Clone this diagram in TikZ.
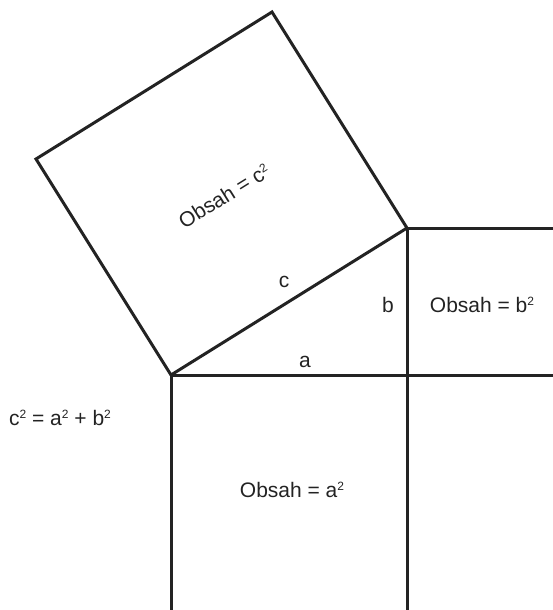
\documentclass[tikz,border=0pt]{standalone}
\usepackage{fontspec}
\setmainfont{Liberation Sans}
\usetikzlibrary{positioning}
\definecolor{inkgray}{RGB}{35,35,35}
\tikzset{
  pline/.style ={line width=3pt, inkgray, line join=miter},
  plabel/.style={font=\fontsize{21}{25}\selectfont, text=inkgray,
                 inner sep=0pt, anchor=base},
}
\newcommand{\sqr}{\raisebox{6.5pt}{\fontsize{12}{12}\selectfont 2}}

\begin{document}
\begin{tikzpicture}[x=1pt, y=-1pt]
  \useasboundingbox (0,0) rectangle (552,610);

  % ---- corners of the triangle and of the square on c ----------------------
  \coordinate (A) at (171,375);
  \coordinate (B) at (407,375);
  \coordinate (C) at (407,228);
  \coordinate (P) at (36,159);
  \coordinate (Q) at (272,12);
  % ---- where the open squares run off the page -----------------------------
  \coordinate (Adown)  at (171,620);
  \coordinate (Bdown)  at (407,620);
  \coordinate (Bright) at (560,375);
  \coordinate (Cright) at (560,228);

  \draw[pline] (A) -- (P) -- (Q) -- (C) -- cycle;
  \draw[pline] (Adown) -- (A) -- (Bright);
  \draw[pline] (Cright) -- (C) -- (Bdown);

  % ---- labels --------------------------------------------------------------
  \node[plabel, anchor=center, rotate=32] (areaC) at (224,196) {Obsah = c\sqr};
  \node[plabel] (sideC) at (284,287) {c};
  \node[plabel] (sideB) at (388,312) {b};
  \node[plabel] (sideA) at (305,367) {a};
  \node[plabel] (areaB) at (482,312) {Obsah = b\sqr};
  \node[plabel] (areaA) at (292,497) {Obsah = a\sqr};
  \node[plabel] (rule)  at (60,425)  {c\sqr{} = a\sqr{} + b\sqr};
\end{tikzpicture}
\end{document}
